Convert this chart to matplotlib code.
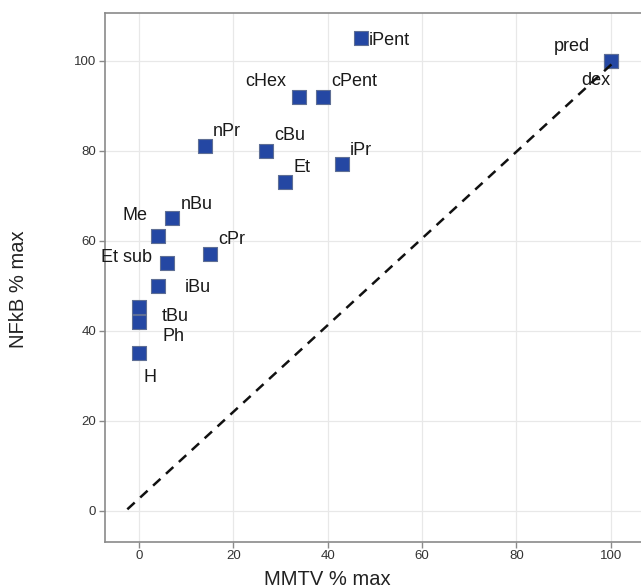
import matplotlib
matplotlib.use("Agg")
import matplotlib.pyplot as plt

plt.rcParams['font.family'] = ['Liberation Sans', 'DejaVu Sans']

labels = ["iPent", "cHex", "cPent", "nPr", "cBu", "iPr", "Et", "nBu", "Me", "cPr",
          "Et sub", "iBu", "tBu", "Ph", "H", "pred", "dex"]
mmtv = [47.0, 34.0, 39.0, 14.0, 27.0, 43.0, 31.0, 7.0, 4.0, 15.0, 6.0, 4.0, 0.0, 0.0, 0.0, 100.0, 100.0]
nfkb = [105.0, 92.0, 92.0, 81.0, 80.0, 77.0, 73.0, 65.0, 61.0, 57.0, 55.0, 50.0, 45.3, 42.0, 35.0, 100.0, 100.0]
# label offsets in pixels (dx, dy) and horizontal alignment
offsets = {
    "iPent": (8, -2, 'left'), "cHex": (-13, 15, 'right'), "cPent": (8, 15, 'left'),
    "nPr": (8, 15, 'left'), "cBu": (8, 15, 'left'), "iPr": (8, 14, 'left'),
    "Et": (8, 15, 'left'), "nBu": (9, 14, 'left'), "Me": (-10, 21, 'right'),
    "cPr": (8, 15, 'left'), "Et sub": (-15, 6, 'right'), "iBu": (27, -2, 'left'),
    "tBu": (23, -10, 'left'), "Ph": (23, -15, 'left'), "H": (4, -24, 'left'),
    "pred": (-21, 14, 'right'), "dex": (0, -20, 'right'),
}
line_x = [-2.5, 100.5]
line_y = [0.3, 99.5]

fig = plt.figure(figsize=(6.41, 5.88), dpi=100)
ax = fig.add_axes([0.1633, 0.0787, 0.8367, 0.8987])

ax.scatter(mmtv, nfkb, marker='s', s=115, facecolor='#2447a3', edgecolor='#5f6f95',
           linewidth=0.8, zorder=3)
ax.plot(line_x, line_y, linestyle=(0, (4, 3)), color='#111111', linewidth=1.8, zorder=5)

for lab, x, y in zip(labels, mmtv, nfkb):
    dx, dy, ha = offsets[lab]
    ax.annotate(lab, (x, y), xytext=(dx, dy), textcoords='offset pixels',
                ha=ha, va='center', fontsize=13, color='#1a1a1a', zorder=4)

ax.set_xlim(-7.3, 106.4)
ax.set_ylim(-6.9, 110.5)
ax.set_xticks([0, 20, 40, 60, 80, 100])
ax.set_yticks([0, 20, 40, 60, 80, 100])
ax.grid(True, color='#e8e8e8', linewidth=0.9, zorder=0)
ax.set_axisbelow(True)
for s in ['left', 'bottom', 'top']:
    ax.spines[s].set_color('#8a8a8a')
    ax.spines[s].set_linewidth(1.2)
ax.spines['right'].set_visible(False)
ax.tick_params(axis='both', colors='#8a8a8a', labelcolor='#333333', labelsize=9.5,
               length=4, width=1, pad=2)
ax.set_xlabel('MMTV % max', fontsize=14.5, color='#222222')
ax.set_ylabel('NFkB % max', fontsize=14.5, color='#222222')
ax.xaxis.set_label_coords(0.416, -0.054)
ax.yaxis.set_label_coords(-0.143, 0.478)

fig.savefig('out.png', dpi=100)
